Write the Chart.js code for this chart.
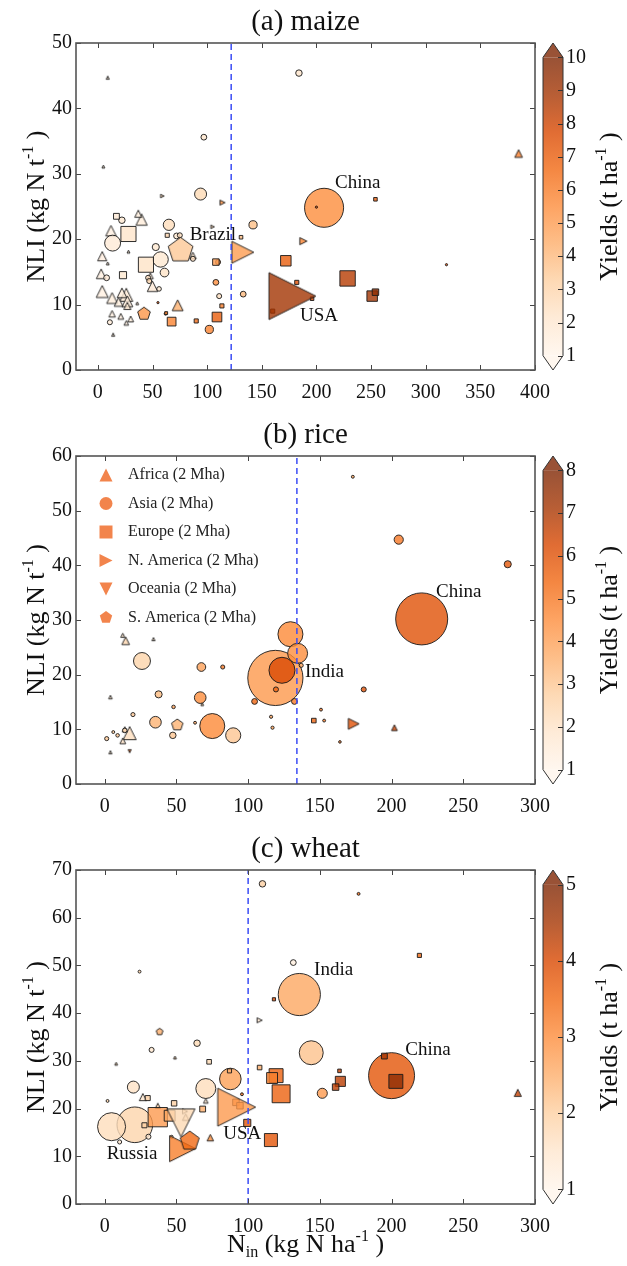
<!DOCTYPE html>
<html>
<head>
<meta charset="utf-8">
<script src="https://cdn.jsdelivr.net/npm/chart.js@4.4.1/dist/chart.umd.min.js"></script>
<style>
  html, body { margin: 0; padding: 0; background: #fff; }
  canvas { display: block; }
</style>
</head>
<body>
<canvas id="maizeChart" width="627" height="413"></canvas>
<canvas id="riceChart" width="627" height="414"></canvas>
<canvas id="wheatChart" width="627" height="439"></canvas>
<script>
const continents = ['Africa', 'Asia', 'Europe', 'N. America', 'Oceania', 'S. America'];

// each point: [N input (kg N/ha), NLI (kg N/t), harvested area (Mha), yield (t/ha)]
const maizeAfrica = [
  [9, 44.7, 0.12, 2], [5, 31.1, 0.1, 2], [385, 33.1, 0.7, 6], [37, 23.9, 0.6, 1.6],
  [40, 23.0, 1.5, 1.7], [12, 21.3, 1.3, 1.4], [4, 17.4, 1.0, 1.5], [9, 16.3, 0.1, 2],
  [28, 18.1, 0.1, 2], [3, 14.7, 1.1, 1.4], [4, 12.0, 1.7, 1.4], [13, 11.0, 1.4, 1.6],
  [22, 11.8, 1.1, 1.7], [26, 11.5, 2.0, 1.8], [27, 10.5, 1.4, 1.7], [19, 10.4, 0.9, 1.6],
  [27, 9.8, 0.6, 2.0], [50, 12.8, 1.3, 1.9], [73, 9.9, 1.4, 4.3], [13, 8.6, 0.5, 1.4],
  [21, 8.2, 0.4, 1.5], [30, 7.8, 0.4, 1.6], [26, 7.2, 0.25, 1.5], [14, 5.4, 0.12, 2],
  [87, 17.5, 0.5, 2.2], [36, 10.2, 0.1, 2], [48, 14.4, 0.4, 1.9]
];
const maizeAsia = [
  [184, 45.4, 0.5, 2.2], [97, 35.6, 0.4, 2.2], [94, 26.9, 1.7, 2.8], [207, 24.8, 18, 5.5],
  [200, 24.9, 0.06, 8], [22, 22.9, 0.5, 2], [65, 22.2, 1.5, 2.6], [142, 22.2, 0.8, 3.8],
  [13.5, 19.4, 3.0, 1.8], [72, 20.5, 0.4, 2], [53, 18.8, 0.6, 2], [57.4, 16.9, 2.8, 2],
  [61, 14.9, 0.9, 2.3], [8, 14.1, 0.4, 1.8], [46, 14.1, 0.3, 2.5], [47, 13.6, 0.3, 3],
  [56, 12.4, 0.25, 2], [108, 13.4, 0.4, 5.5], [133, 11.6, 0.4, 4], [111, 11.3, 0.3, 2.5],
  [102, 6.2, 0.8, 5.8], [11, 7.3, 0.3, 1.8], [87, 17.0, 0.3, 2.5], [110, 16.5, 0.3, 5],
  [319, 16.1, 0.06, 8], [62, 8.6, 0.1, 5], [55, 10.3, 0.06, 8], [75, 20.6, 0.3, 2.5]
];
const maizeEurope = [
  [254, 26.1, 0.15, 7], [17, 23.5, 0.4, 1.8], [131, 20.3, 0.15, 4], [28, 20.8, 2.7, 2.2],
  [63.5, 20.6, 0.2, 3], [44, 16.1, 2.7, 2.3], [108, 16.5, 0.5, 5], [172, 16.7, 1.3, 7],
  [23, 14.5, 0.6, 2], [182, 13.4, 0.2, 7.5], [228.5, 14.0, 2.8, 8.5], [196, 10.9, 0.15, 8],
  [160, 9.0, 0.2, 8.5], [251, 11.3, 1.3, 9], [254, 11.9, 0.5, 9.5], [67.5, 7.4, 0.9, 5.8],
  [90, 7.5, 0.2, 6.5], [109, 8.1, 1.1, 7], [113.5, 9.8, 0.2, 6], [62.5, 8.7, 0.1, 6]
];
const maizeNAmerica = [
  [59, 26.6, 0.15, 3], [114, 25.6, 0.3, 5.5], [105, 21.9, 0.15, 3], [132.6, 18.0, 5.7, 5],
  [188, 19.7, 0.6, 5.8], [178, 11.3, 26, 9]
];
const maizeOceania = [];
const maizeSAmerica = [[75.7, 18.3, 8, 3.5], [42.2, 8.6, 2.1, 5.2]];

const riceAfrica = [
  [12.6, 27.2, 0.2, 2], [14.6, 26.2, 0.7, 2.5], [34, 26.5, 0.12, 2], [4, 15.9, 0.15, 2],
  [17.4, 9.3, 2.0, 2.2], [12.6, 7.9, 0.4, 2], [4, 5.8, 0.12, 2], [202, 10.3, 0.4, 6.5],
  [68, 14.6, 0.1, 3], [14, 10, 0.3, 2]
];
const riceAsia = [
  [173, 56.2, 0.1, 4], [205, 44.7, 1.0, 5], [281, 40.2, 0.6, 5.8], [221, 30.2, 32, 6],
  [129.5, 27.4, 7.4, 4.6], [134.5, 23.9, 4.7, 4.5], [137, 21.7, 0.2, 4], [119, 19.4, 36, 4.2],
  [123.6, 20.8, 8, 6.2], [119.4, 17.3, 0.3, 5.5], [132.3, 15.1, 0.4, 5], [104.5, 15.1, 0.4, 5.5],
  [180.6, 17.3, 0.3, 6], [26, 22.5, 3.4, 2.6], [67.4, 21.4, 0.9, 4], [82.3, 21.4, 0.2, 5],
  [37.6, 16.4, 0.6, 3.3], [66.6, 15.8, 1.6, 4.5], [48, 14.1, 0.15, 4], [19.7, 12.7, 0.2, 3],
  [35.4, 11.3, 1.6, 3.5], [75, 10.6, 7.4, 4.6], [89.6, 8.9, 2.7, 3], [47.5, 8.9, 0.5, 3],
  [63, 11.2, 0.1, 4], [116, 12.3, 0.12, 4], [117, 10.3, 0.12, 4], [150.8, 13.6, 0.1, 5],
  [153, 11.6, 0.1, 5], [164, 7.7, 0.08, 5], [1.4, 8.3, 0.2, 3], [6, 9.5, 0.1, 3],
  [9, 8.9, 0.15, 3], [14, 9.8, 0.25, 2.5]
];
const riceEurope = [[145.8, 11.6, 0.25, 5.5]];
const riceNAmerica = [[173.6, 11.0, 1.4, 6]];
const riceOceania = [[17.4, 6.0, 0.12, 6]];
const riceSAmerica = [[50.6, 10.8, 1.7, 3.5]];

const wheatAfrica = [
  [8, 29.4, 0.1, 2], [49, 30.7, 0.1, 2], [26.6, 22.4, 0.6, 1.5], [37, 20.6, 0.3, 2],
  [56.5, 18.2, 0.5, 1.3], [73.6, 13.9, 0.5, 3], [288, 23.3, 0.6, 4.2], [70.5, 21.6, 0.25, 1.5]
];
const wheatAsia = [
  [110, 67.1, 0.5, 2], [177, 65.0, 0.1, 3.5], [24.3, 48.7, 0.1, 2], [131.5, 50.6, 0.4, 1.2],
  [135.7, 43.9, 21, 2.6], [32.7, 32.3, 0.3, 1.5], [64.4, 33.7, 0.5, 1.8], [144, 31.7, 6.8, 2.2],
  [200, 26.9, 25, 3.8], [151.7, 23.2, 1.2, 2.8], [87.6, 26.2, 5.5, 2.7], [70.5, 24.2, 4.7, 1.7],
  [20, 24.5, 1.7, 1.6], [2, 21.6, 0.1, 2], [95.7, 23.0, 0.1, 3.5], [4.8, 16.2, 9.3, 1.7],
  [21, 16.6, 15, 1.9], [30.5, 14.1, 0.3, 1.5], [10.4, 13.0, 0.2, 1.5], [46.7, 14.1, 0.1, 2]
];
const wheatEurope = [
  [219.4, 52.1, 0.2, 3.5], [118, 42.9, 0.12, 4], [72.8, 29.8, 0.25, 1.8], [108, 28.6, 0.25, 2.5],
  [195, 31.0, 0.4, 4.5], [203, 25.7, 2.3, 4.8], [163.7, 27.9, 0.15, 4.2], [164.3, 25.7, 1.2, 4.3],
  [161, 24.5, 0.5, 4.3], [119.5, 26.9, 2.3, 3.6], [116.7, 26.4, 1.4, 3.2], [123, 23.1, 3.8, 3.6],
  [87, 27.9, 0.2, 2.5], [30, 22.2, 0.3, 2], [91.5, 21.3, 0.5, 3], [94.3, 20.6, 0.5, 3],
  [99.4, 17.0, 0.6, 3.8], [115.9, 13.4, 2.0, 3.8], [48.4, 21.1, 0.35, 2], [68.3, 19.9, 0.4, 2.5],
  [37, 18.2, 4.4, 2.8], [45.3, 18.5, 1.4, 2.6], [27.7, 16.5, 0.3, 2]
];
const wheatNAmerica = [[108, 38.5, 0.3, 1.5], [92, 20.3, 17, 2.8], [56, 19.4, 0.3, 1.5], [54.3, 11.6, 8, 3.2]];
const wheatOceania = [[53.2, 17.0, 9.3, 1.8]];
const wheatSAmerica = [[38.3, 36.1, 0.6, 2.5], [59.3, 13.2, 4.7, 3.5]];

const maizeXTicks = [0, 50, 100, 150, 200, 250, 300, 350, 400];
const riceXTicks = [0, 50, 100, 150, 200, 250, 300];
const wheatXTicks = [0, 50, 100, 150, 200, 250, 300];
const maizeYTicks = [0, 10, 20, 30, 40, 50];
const riceYTicks = [0, 10, 20, 30, 40, 50, 60];
const wheatYTicks = [0, 10, 20, 30, 40, 50, 60, 70];
const maizeCbTicks = [1, 2, 3, 4, 5, 6, 7, 8, 9, 10];
const riceCbTicks = [1, 2, 3, 4, 5, 6, 7, 8];
const wheatCbTicks = [1, 2, 3, 4, 5];
const maizeThreshold = 122;
const riceThreshold = 134;
const wheatThreshold = 100;

// country notes: [text, N input, NLI] of the text's left end
const maizeNotes = [['China', 217, 28.6], ['Brazil', 84, 20.6], ['USA', 185, 8.2]];
const riceNotes = [['China', 231, 35.2], ['India', 139.6, 20.4]];
const wheatNotes = [['India', 146, 49.1], ['China', 209.6, 32.2], ['USA', 82.6, 14.6], ['Russia', 1.4, 10.5]];

const serif = "'Liberation Serif', 'DejaVu Serif', serif";
Chart.defaults.font.family = serif;

const orangeStops = [[255, 245, 235], [254, 230, 206], [253, 208, 162], [253, 174, 107], [253, 141, 60],
  [241, 105, 19], [217, 72, 1], [166, 54, 3], [127, 39, 4]];
const fillAlpha = 0.8;
const edgeColor = 'rgba(25,25,25,0.9)';
const shapes = ['up', 'circle', 'square', 'right', 'down', 'pent'];

function cmapRGB(t) {
  t = Math.max(0, Math.min(1, t));
  const f = t * 8, i = Math.min(7, Math.floor(f)), u = f - i;
  const a = orangeStops[i], b = orangeStops[i + 1];
  return a.map((v, k) => Math.round(v + (b[k] - v) * u));
}
function rgba(c, al) { return `rgba(${c[0]},${c[1]},${c[2]},${al})`; }
function yieldColor(v, vmax) { return rgba(cmapRGB((v - 1) / (vmax - 1)), fillAlpha); }
function markerRadius(area) { return 4.6 * Math.sqrt(area); }

function shapePath(g, shape, cx, cy, r) {
  g.beginPath();
  if (shape === 'up') { g.moveTo(cx, cy - r); g.lineTo(cx + r, cy + r); g.lineTo(cx - r, cy + r); }
  else if (shape === 'right') { g.moveTo(cx + r, cy); g.lineTo(cx - r, cy + r); g.lineTo(cx - r, cy - r); }
  else if (shape === 'down') { g.moveTo(cx, cy + r); g.lineTo(cx - r, cy - r); g.lineTo(cx + r, cy - r); }
  else if (shape === 'pent') {
    for (let k = 0; k < 5; k++) {
      const an = -Math.PI / 2 + k * 2 * Math.PI / 5;
      g.lineTo(cx + r * Math.cos(an), cy + r * Math.sin(an));
    }
  }
  else if (shape === 'square') g.rect(cx - r, cy - r, 2 * r, 2 * r);
  else g.arc(cx, cy, r, 0, 2 * Math.PI);
  g.closePath();
}

const imgCache = {};
function markerImage(shape, r, fill) {
  const key = shape + '|' + r.toFixed(2) + '|' + fill;
  if (imgCache[key]) return imgCache[key];
  const s = Math.ceil(2 * r + 6);
  const c = document.createElement('canvas');
  c.width = s; c.height = s;
  const g = c.getContext('2d');
  shapePath(g, shape, s / 2, s / 2, r);
  g.fillStyle = fill; g.fill();
  g.lineWidth = 1; g.strokeStyle = edgeColor; g.stroke();
  imgCache[key] = c;
  return c;
}

function richText(g, parts, size, cx, cy, angle) {
  g.save();
  g.translate(cx, cy);
  g.rotate(angle || 0);
  g.fillStyle = '#111';
  g.textBaseline = 'alphabetic';
  g.textAlign = 'left';
  const small = Math.round(size * 0.6);
  const widths = parts.map(pt => { g.font = `${pt.s ? small : size}px ${serif}`; return g.measureText(pt.t).width; });
  let x = -widths.reduce((a, b) => a + b, 0) / 2;
  const base = size * 0.33;
  parts.forEach((pt, i) => {
    g.font = `${pt.s ? small : size}px ${serif}`;
    const dy = pt.s === 'sup' ? -size * 0.42 : pt.s === 'sub' ? size * 0.22 : 0;
    g.fillText(pt.t, x, base + dy);
    x += widths[i];
  });
  g.restore();
}

function makeDatasets(series, vmax) {
  return series.map((pts, i) => {
    const shape = shapes[i];
    const sorted = pts.slice().sort((a, b) => b[2] - a[2]);
    return {
      label: continents[i] + ' (2 Mha)',
      data: sorted.map(p => ({ x: p[0], y: p[1], area: p[2], yld: p[3] })),
      order: 10 - i,
      pointStyle: ctx => {
        if (shape === 'circle') return 'circle';
        if (shape === 'square') return 'rect';
        if (!ctx.raw) return 'circle';
        return markerImage(shape, markerRadius(ctx.raw.area), yieldColor(ctx.raw.yld, vmax));
      },
      pointRadius: ctx => {
        if (!ctx.raw) return 3;
        const r = markerRadius(ctx.raw.area);
        return shape === 'square' ? r * Math.SQRT2 : r;
      },
      pointBackgroundColor: ctx => ctx.raw ? yieldColor(ctx.raw.yld, vmax) : '#f80',
      pointBorderColor: edgeColor,
      pointBorderWidth: 1
    };
  });
}

const panels = [
  { id: 'maizeChart', title: '(a) maize', xMax: 400, xAxisH: 36,
    series: [maizeAfrica, maizeAsia, maizeEurope, maizeNAmerica, maizeOceania, maizeSAmerica],
    xTicks: maizeXTicks, yTicks: maizeYTicks, cbTicks: maizeCbTicks, threshold: maizeThreshold,
    notes: maizeNotes, legend: false, xTitle: false },
  { id: 'riceChart', title: '(b) rice', xMax: 300, xAxisH: 36,
    series: [riceAfrica, riceAsia, riceEurope, riceNAmerica, riceOceania, riceSAmerica],
    xTicks: riceXTicks, yTicks: riceYTicks, cbTicks: riceCbTicks, threshold: riceThreshold,
    notes: riceNotes, legend: true, xTitle: false },
  { id: 'wheatChart', title: '(c) wheat', xMax: 300, xAxisH: 62,
    series: [wheatAfrica, wheatAsia, wheatEurope, wheatNAmerica, wheatOceania, wheatSAmerica],
    xTicks: wheatXTicks, yTicks: wheatYTicks, cbTicks: wheatCbTicks, threshold: wheatThreshold,
    notes: wheatNotes, legend: false, xTitle: true }
];

function decorPlugin(p) {
  const vmax = p.cbTicks[p.cbTicks.length - 1];
  return {
    id: 'decor',
    afterDraw(chart) {
      const g = chart.ctx, a = chart.chartArea;
      const xs = chart.scales.x, ys = chart.scales.y, cb = chart.scales.cb;
      g.save();

      // colorbar
      const x0 = a.right + 8, x1 = a.right + 28, xm = (x0 + x1) / 2;
      const yT = cb.getPixelForValue(vmax), yB = cb.getPixelForValue(1);
      const grad = g.createLinearGradient(0, yB, 0, yT);
      orangeStops.forEach((c, k) => grad.addColorStop(k / 8, rgba(c, fillAlpha)));
      g.fillStyle = grad;
      g.fillRect(x0, yT, x1 - x0, yB - yT);
      g.fillStyle = yieldColor(vmax, vmax);
      g.beginPath(); g.moveTo(x0, yT); g.lineTo(x1, yT); g.lineTo(xm, a.top); g.closePath(); g.fill();
      g.fillStyle = yieldColor(1, vmax);
      g.beginPath(); g.moveTo(x0, yB); g.lineTo(x1, yB); g.lineTo(xm, a.bottom); g.closePath(); g.fill();
      g.strokeStyle = '#333'; g.lineWidth = 1;
      g.beginPath();
      g.moveTo(xm, a.top); g.lineTo(x1, yT); g.lineTo(x1, yB); g.lineTo(xm, a.bottom);
      g.lineTo(x0, yB); g.lineTo(x0, yT); g.closePath(); g.stroke();
      p.cbTicks.forEach(v => {
        const y = Math.round(cb.getPixelForValue(v)) + 0.5;
        g.beginPath(); g.moveTo(x1 - 5, y); g.lineTo(x1, y); g.stroke();
      });

      // inward ticks on all four sides and the frame
      g.strokeStyle = '#444'; g.lineWidth = 1;
      p.xTicks.forEach(v => {
        const x = Math.round(xs.getPixelForValue(v)) + 0.5;
        g.beginPath();
        g.moveTo(x, a.bottom); g.lineTo(x, a.bottom - 5);
        g.moveTo(x, a.top); g.lineTo(x, a.top + 5);
        g.stroke();
      });
      p.yTicks.forEach(v => {
        const y = Math.round(ys.getPixelForValue(v)) + 0.5;
        g.beginPath();
        g.moveTo(a.left, y); g.lineTo(a.left + 5, y);
        g.moveTo(a.right, y); g.lineTo(a.right - 5, y);
        g.stroke();
      });
      g.strokeStyle = '#555'; g.lineWidth = 1.6;
      g.strokeRect(a.left, a.top, a.right - a.left, a.bottom - a.top);

      // country notes
      g.fillStyle = '#111';
      g.font = `19px ${serif}`;
      g.textAlign = 'left'; g.textBaseline = 'middle';
      p.notes.forEach(n => g.fillText(n[0], xs.getPixelForValue(n[1]), ys.getPixelForValue(n[2])));

      // legend
      if (p.legend) {
        g.font = `16px ${serif}`;
        continents.forEach((c, i) => {
          const y = a.top + 19 + i * 28.5;
          shapePath(g, shapes[i], a.left + 30, y, 6.5);
          g.fillStyle = rgba([240, 110, 45], 0.85);
          g.fill();
          g.fillStyle = '#222';
          g.fillText(c + ' (2 Mha)', a.left + 52, y);
        });
      }

      // titles
      g.fillStyle = '#111';
      g.font = `29px ${serif}`;
      g.textAlign = 'center'; g.textBaseline = 'alphabetic';
      g.fillText(p.title, (a.left + a.right) / 2, 29.5);
      const yc = (a.top + a.bottom) / 2;
      richText(g, [{ t: 'NLI (kg N t' }, { t: '-1', s: 'sup' }, { t: ' )' }], 26, 35, yc, -Math.PI / 2);
      richText(g, [{ t: 'Yields (t ha' }, { t: '-1', s: 'sup' }, { t: ' )' }], 26, 608, yc, -Math.PI / 2);
      if (p.xTitle) {
        richText(g, [{ t: 'N' }, { t: 'in', s: 'sub' }, { t: ' (kg N ha' }, { t: '-1', s: 'sup' }, { t: ' )' }],
          26, (a.left + a.right) / 2, a.bottom + 39, 0);
      }
      g.restore();
    }
  };
}

panels.forEach(p => {
  const vmax = p.cbTicks[p.cbTicks.length - 1];
  const yMin = p.yTicks[0], yMax = p.yTicks[p.yTicks.length - 1];
  const ext = (vmax - 1) * 15 / 312;
  const tickFont = { size: 20, family: serif };
  const datasets = makeDatasets(p.series, vmax);
  datasets.push({
    type: 'line',
    label: 'threshold',
    data: [{ x: p.threshold, y: yMin }, { x: p.threshold, y: yMax }],
    borderColor: '#3b4cf5',
    borderWidth: 1.5,
    borderDash: [6, 4],
    pointRadius: 0,
    fill: false,
    order: 0
  });

  new Chart(document.getElementById(p.id), {
    type: 'scatter',
    data: { datasets },
    options: {
      responsive: false,
      animation: false,
      events: [],
      layout: { padding: { top: 35, left: 0, right: 0, bottom: 0 } },
      plugins: { legend: { display: false }, tooltip: { enabled: false } },
      scales: {
        x: {
          type: 'linear', position: 'bottom', min: -20, max: p.xMax,
          afterBuildTicks: s => { s.ticks = p.xTicks.map(v => ({ value: v })); },
          afterFit: s => { s.height = p.xAxisH; },
          grid: { display: false, drawTicks: false },
          border: { display: false },
          ticks: { font: tickFont, color: '#111', padding: 11, maxRotation: 0 }
        },
        y: {
          type: 'linear', position: 'left', min: yMin, max: yMax,
          afterBuildTicks: s => { s.ticks = p.yTicks.map(v => ({ value: v })); },
          afterFit: s => { s.width = 76; },
          grid: { display: false, drawTicks: false },
          border: { display: false },
          ticks: { font: tickFont, color: '#111', padding: 4 }
        },
        cb: {
          type: 'linear', position: 'right', axis: 'y', min: 1 - ext, max: vmax + ext,
          afterBuildTicks: s => { s.ticks = p.cbTicks.map(v => ({ value: v })); },
          afterFit: s => { s.width = 92; },
          grid: { display: false, drawTicks: false },
          border: { display: false },
          ticks: { font: tickFont, color: '#111', padding: 31 }
        }
      }
    },
    plugins: [decorPlugin(p)]
  });
});
</script>
</body>
</html>
